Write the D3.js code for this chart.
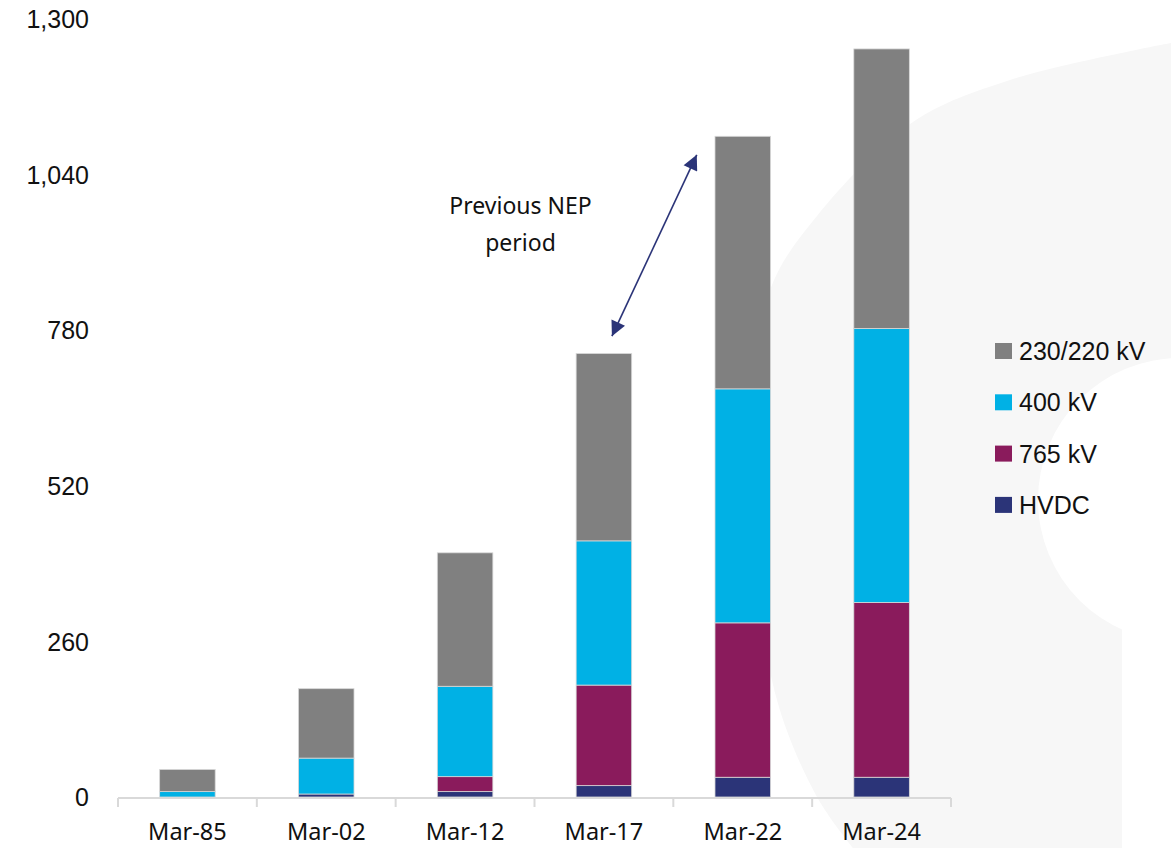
<!DOCTYPE html>
<html>
<head>
<meta charset="utf-8">
<script src="https://cdn.jsdelivr.net/npm/d3@7"></script>
<style>
  html, body { margin: 0; padding: 0; background: #ffffff; }
  svg { display: block; }
</style>
</head>
<body>
<svg id="chart" width="1171" height="848"></svg>
<script>
// Transformation capacity by voltage class (GVA)
const categories = ["Mar-85", "Mar-02", "Mar-12", "Mar-17", "Mar-22", "Mar-24"];
const seriesNames = ["HVDC", "765 kV", "400 kV", "230/220 kV"];
const hvdc    = [0, 5, 9, 19, 33, 33];
const kv765   = [0, 0, 25, 168, 258, 292];
const kv400   = [9, 60, 151, 241, 391, 458];
const kv230   = [37, 116, 223, 313, 422, 467];
const yTicks  = [0, 260, 520, 780, 1040, 1300];
const colors  = ["#2b3478", "#8a1b5c", "#00b1e5", "#808080"];
const legendOrder = ["230/220 kV", "400 kV", "765 kV", "HVDC"];
const noteLines = ["Previous NEP", "period"];

const svg = d3.select("#chart");
const W = 1171, H = 848;

// faint decorative backdrop shape
const bg = svg.append("g");
const outer = d3.line().curve(d3.curveCatmullRom.alpha(0.5))([
  [1171, 43], [1010, 80], [913, 122], [817, 216], [770, 290], [752, 420],
  [755, 560], [777, 700], [817, 797], [853, 848]
]);
bg.append("path")
  .attr("d", outer + ` L ${W} ${H} L ${W} 43 Z`)
  .attr("fill", "#f7f7f7");
bg.append("circle").attr("cx", 1180).attr("cy", 500).attr("r", 142).attr("fill", "#ffffff");
bg.append("rect").attr("x", 1122).attr("y", 500).attr("width", W - 1122).attr("height", H - 500).attr("fill", "#ffffff");

const x = d3.scaleBand()
  .domain(categories)
  .range([118, 951])
  .paddingInner(0.6)
  .paddingOuter(0.3);

const y = d3.scaleLinear().domain([0, 1300]).range([797, 19]);

// stack the series
const rows = categories.map((c, i) => ({
  cat: c,
  "HVDC": hvdc[i],
  "765 kV": kv765[i],
  "400 kV": kv400[i],
  "230/220 kV": kv230[i]
}));
const stacked = d3.stack().keys(seriesNames)(rows);
const color = d3.scaleOrdinal().domain(seriesNames).range(colors);

// y axis labels (no axis line)
const yAxis = d3.axisLeft(y).tickValues(yTicks).tickSize(0).tickPadding(0)
  .tickFormat(d3.format(","));
svg.append("g")
  .attr("transform", "translate(89,0)")
  .call(yAxis)
  .call(g => g.select(".domain").remove())
  .call(g => g.selectAll("text")
    .attr("font-family", "'Liberation Sans', Arial, sans-serif")
    .attr("font-size", 25)
    .attr("fill", "#111")
    .attr("dy", "0.35em"));

// bars
svg.append("g").selectAll("g")
  .data(stacked)
  .join("g")
  .attr("fill", d => color(d.key))
  .selectAll("rect")
  .data(d => d)
  .join("rect")
  .attr("x", d => x(d.data.cat))
  .attr("width", x.bandwidth())
  .attr("y", d => y(d[1]))
  .attr("height", d => Math.max(0, y(d[0]) - y(d[1])))
  .attr("stroke", "#d8d8d8")
  .attr("stroke-width", 0.8);

// x axis with boundary ticks
const xg = svg.append("g").attr("transform", `translate(0,${y(0) + 1})`);
const step = x.step();
const bounds = d3.range(categories.length + 1).map(i => x.range()[0] + i * step);
xg.append("line")
  .attr("x1", x.range()[0]).attr("x2", x.range()[1])
  .attr("y1", 0).attr("y2", 0)
  .attr("stroke", "#d9d9d9").attr("stroke-width", 2);
xg.selectAll("line.tick")
  .data(bounds)
  .join("line")
  .attr("class", "tick")
  .attr("x1", d => d).attr("x2", d => d)
  .attr("y1", 0).attr("y2", 9)
  .attr("stroke", "#d9d9d9").attr("stroke-width", 2);
xg.selectAll("text")
  .data(categories)
  .join("text")
  .attr("x", d => x(d) + x.bandwidth() / 2)
  .attr("y", 42)
  .attr("text-anchor", "middle")
  .attr("font-family", "'Noto Sans', 'Open Sans', sans-serif")
  .attr("font-size", 23.5)
  .attr("fill", "#111")
  .text(d => d);

// annotation: double-headed arrow and note
const navy = "#2b3478";
const defs = svg.append("defs");
defs.append("marker")
  .attr("id", "head")
  .attr("viewBox", "0 0 10 10")
  .attr("refX", 10).attr("refY", 5)
  .attr("markerWidth", 17).attr("markerHeight", 15)
  .attr("markerUnits", "userSpaceOnUse")
  .attr("orient", "auto-start-reverse")
  .append("path")
  .attr("d", "M0,0 L10,5 L0,10 Z")
  .attr("fill", navy);

const cx17 = x("Mar-17") + x.bandwidth() / 2;
const cx22 = x("Mar-22") + x.bandwidth() / 2;
svg.append("line")
  .attr("x1", cx17 + 8).attr("y1", y(770))
  .attr("x2", cx22 - 46).attr("y2", y(1073))
  .attr("stroke", navy).attr("stroke-width", 1.6)
  .attr("marker-start", "url(#head)")
  .attr("marker-end", "url(#head)");

svg.append("text")
  .attr("font-family", "'Noto Sans', 'Open Sans', sans-serif")
  .attr("font-size", 23)
  .attr("fill", "#111")
  .attr("text-anchor", "middle")
  .selectAll("tspan")
  .data(noteLines)
  .join("tspan")
  .attr("x", (x("Mar-12") + x("Mar-17")) / 2 + x.bandwidth() / 2 - 14)
  .attr("y", (d, i) => y(975) + i * 37)
  .text(d => d);

// legend
const lg = svg.append("g").attr("transform", "translate(995,343)");
const li = lg.selectAll("g")
  .data(legendOrder)
  .join("g")
  .attr("transform", (d, i) => `translate(0,${i * 51.3})`);
li.append("rect")
  .attr("width", 17).attr("height", 16)
  .attr("fill", d => color(d));
li.append("text")
  .attr("x", 24).attr("y", 8)
  .attr("dy", "0.36em")
  .attr("font-family", "'Liberation Sans', Arial, sans-serif")
  .attr("font-size", 25)
  .attr("fill", "#111")
  .text(d => d);
</script>
</body>
</html>
